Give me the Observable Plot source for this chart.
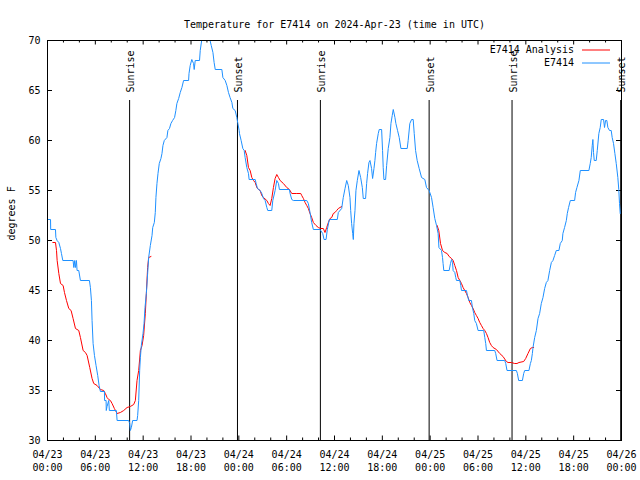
<!DOCTYPE html>
<html>
<head>
<meta charset="utf-8">
<script src="https://cdn.jsdelivr.net/npm/d3@7"></script>
<script src="https://cdn.jsdelivr.net/npm/@observablehq/plot@0.6"></script>
<style>
  html, body { margin: 0; padding: 0; background: white; }
  #chart svg { display: block; }
</style>
</head>
<body>
<div id="chart"></div>
<script>
// ---- data (hours since 2024-04-23 00:00 UTC, degrees F) ----
const titleText = "Temperature for E7414 on 2024-Apr-23 (time in UTC)";
const yLabel = "degrees F";
const seriesNames = ["E7414 Analysis", "E7414"];
const seriesColors = ["#ff0000", "#1e90ff"];

const blueH = [0,0.38,0.4,1.0,1.05,1.2,1.42,1.63,1.75,1.92,3.21,3.3,3.42,3.5,3.63,3.71,3.92,4.13,5.26,5.38,5.51,5.59,5.72,5.89,6.09,6.3,6.47,6.64,7.14,7.16,7.35,7.37,7.47,7.68,7.76,8.64,8.73,10.18,10.31,10.39,10.52,10.68,11.23,11.31,11.44,11.56,11.65,11.77,11.98,12.11,12.23,12.4,12.56,12.69,12.9,13.11,13.2,13.4,13.52,13.6,13.73,13.86,14.02,14.23,14.36,14.48,14.65,14.98,15.1,15.3,15.48,15.69,15.94,16.1,16.23,16.45,16.65,16.86,17.07,17.7,17.75,17.9,18.1,18.32,18.4,18.53,19.07,19.16,19.37,19.8,20.33,20.54,20.75,20.9,21.04,21.87,22,22.29,22.5,22.7,22.9,23.13,23.25,23.54,23.75,23.88,24.04,24.08,24.29,24.5,24.67,24.79,25.0,25.21,25.29,26.05,26.17,26.34,26.67,26.88,27.09,27.3,27.51,27.63,28.13,28.26,28.55,28.76,28.97,29.09,30.34,30.43,30.64,30.84,32.52,32.72,32.93,33.14,33.35,34.18,34.52,34.69,34.94,35.1,35.35,36.35,36.48,36.9,37.1,37.32,37.53,37.73,37.94,38.03,38.15,38.28,38.36,38.44,38.57,38.69,38.86,39.07,39.28,39.49,39.61,39.9,40.03,40.15,40.32,40.45,40.65,40.78,40.95,41.07,41.16,41.28,41.49,41.61,41.91,42.03,42.11,42.2,42.41,42.54,42.74,42.95,43.08,43.24,43.37,43.58,43.7,43.91,44.12,44.33,45.12,45.24,45.45,45.67,45.87,46,46.17,46.37,46.62,46.92,47.33,47.54,47.87,48.17,48.37,48.58,48.8,49.0,49.1,49.42,49.55,49.62,49.71,50.38,50.55,50.68,50.8,50.88,51.09,51.21,51.3,51.72,51.84,51.93,52.55,52.68,52.84,53.18,53.3,53.47,53.59,53.8,54.01,54.72,54.85,54.97,55.06,56.1,56.22,56.39,57.35,57.48,57.64,58.81,58.94,59.1,59.57,59.73,59.86,60.39,60.57,60.69,60.82,60.9,61.11,61.32,61.53,61.73,61.94,62.15,62.36,62.57,62.77,62.99,63.2,63.4,63.61,63.82,64.15,64.32,64.57,64.65,64.86,65.08,65.2,65.36,65.58,66.12,66.24,66.41,66.66,66.83,67.91,68.08,68.2,68.33,68.41,68.49,68.58,68.83,68.96,69.16,69.33,69.46,69.75,69.87,70,70.16,70.29,70.5,70.71,70.83,71,71.17,71.34,71.54,71.66,71.75,71.84];
const blueT = [52.1,52.1,51.1,51.1,50.3,50.0,49.8,49.2,48.7,48,48,47.3,48,47.3,48,47,47,46,46,45.3,44,42,39.7,38.5,37.5,36.5,35.5,34.9,34.9,34,34,33,33.4,34,33,33,32,32,31.7,31,31.3,32,32,32.5,34,37,38.3,39.5,40.7,41.7,43.3,44.7,46.7,48.3,49.5,50.5,51.3,51.8,52.8,54.3,55.7,56.7,57.7,58.2,58.7,59.5,60,60.3,61,61.2,61.7,62,62.3,63,63.7,64.2,64.8,65.3,66,66,66.7,67.5,68.1,67.7,67.1,68,68,69,70.2,71,70.2,69.5,68.8,67.8,67.1,67.1,66.3,66,65.5,64.8,64.3,63.8,63.2,63,62.3,61.7,61,60.7,60,59.2,59,58.3,57.3,56.7,56.1,56.1,55.7,55.2,55,54.7,54.2,54,53.3,53,53,54,55,56,55.7,55.1,55.1,54.7,54.1,54,54,53.7,52.8,51.8,51.1,51.1,50.7,50.1,50.1,51.1,52.1,52.1,52.8,53.2,54.3,55.2,56,55.5,54.3,53,51.7,50.7,50.1,51.7,53,55,56,57,56.3,55.3,54.2,54.2,55.7,56.7,57.8,58,57.2,56.2,57.2,58,58.8,59.7,60.7,61.1,61.1,59,57.3,56.1,56.1,57.5,59.2,60.3,61.7,62.5,63.1,62.3,61.7,61,60.3,59.2,59.2,60,61.7,62.1,62.1,60.7,59,58,57.2,56.3,56.1,55.3,55,54.3,53.3,52.2,51.5,50.7,49.3,49,48.3,47.7,47,47,47.7,48.1,47.8,47,46.8,46.3,46,46,45.5,45,45,44.5,44,44,43.3,42.7,42,41.7,41,41,40.3,39.7,39,39,38.7,38,38,37.7,37,37,36.7,36,36,36.7,37,37,37.7,38,38.7,39.3,40.3,41,42.2,42.7,43.7,44.3,45.2,45.8,46,47,47.8,48,48.5,49,49,49.7,50,50.7,51.3,52,52.7,53.3,54,54,54.8,55.3,56,57,57,57.7,58.3,59.5,60.1,58.8,58,58,59,60.7,61.3,62.1,62.1,61.3,62,62,61.3,61,61,60.3,59.7,58.7,57.7,56.3,55.1,53.7,52.7];

const redH = [0.67,1.0,1.13,1.21,1.42,1.63,1.96,2.13,2.38,2.67,2.96,3.21,3.51,3.92,4.13,4.47,4.76,4.97,5.3,5.59,5.8,6.22,6.64,7.05,7.26,7.47,7.68,7.89,8.1,8.39,8.73,9.14,9.56,9.98,10.39,10.81,11.02,11.23,11.44,11.65,11.86,12.06,12.27,12.4,12.56,12.69,12.98,
  13.5,
  24.79,25.0,25.21,25.42,25.63,25.84,26.05,26.26,26.46,26.67,26.88,27.09,27.51,27.71,27.92,28.13,28.34,28.55,28.76,28.97,29.18,29.59,30.01,30.34,30.64,31.27,31.77,31.89,32.1,32.31,32.52,32.72,32.93,33.14,33.35,33.68,33.97,34.27,34.6,34.81,35.02,35.23,35.44,35.65,35.85,36.06,36.27,36.48,36.69,36.9,
  40,
  48.87,49.08,49.3,49.55,49.84,50.13,50.38,50.68,50.88,51.09,51.3,51.51,51.72,51.93,52.13,52.34,52.55,52.76,52.97,53.18,53.39,53.59,53.8,54.01,54.22,54.43,54.64,54.85,55.06,55.26,55.47,55.68,55.89,56.31,56.73,57.14,57.56,57.77,58.18,58.6,58.89,59.14,59.73,59.98,60.27,60.57,60.82,60.98];
const redT = [49.8,49.8,49,48,46.7,45.7,45.5,44.8,44,43.2,43,42.2,41.2,41,40.3,39,38.8,38.5,37.3,36.2,35.7,35.5,35.1,35,34.7,34.3,34.1,34,33.7,33.2,32.7,32.8,33,33.3,33.4,33.6,34,36,37,39,39.5,40.5,42.7,44.7,47.3,48.3,48.4,
  null,
  59,58.5,57.3,57,56.3,56,55.8,55.3,55.1,55,54.5,54.3,54,53.7,53.5,54.2,55.3,56.2,56.6,56.3,56,55.7,55.3,55.1,54.7,54.7,54.7,54.5,54.2,53.8,53.5,53.2,52.7,52.3,51.8,51.5,51.3,51.2,51.2,50.8,51.3,51.8,52.2,52.3,52.7,52.8,53,53.2,53.3,53.4,
  null,
  51.5,51,49.7,49,48.8,48.7,48.4,48.2,48,47.5,47,46.3,46,45.7,45.3,45,44.7,44.3,43.8,43.5,43.2,42.8,42.5,42.2,41.8,41.5,41.2,41,40.7,40.3,39.8,39.5,39.3,39.1,38.7,38.4,37.9,37.8,37.8,37.7,37.7,37.8,37.9,38.2,38.7,39.2,39.3,39.3];

const eventH = [10.3, 23.83, 34.23, 47.87, 58.27, 71.9];
const eventLabels = ["Sunrise", "Sunset", "Sunrise", "Sunset", "Sunrise", "Sunset"];

const xTickH = [0,6,12,18,24,30,36,42,48,54,60,66,72];
const xMinorH = [2,4,8,10,14,16,20,22,26,28,32,34,38,40,44,46,50,52,56,58,62,64,68,70];
const yTicks = [30,35,40,45,50,55,60,65,70];
const xDomainH = [0, 72];
const yDomain = [30, 70];

// ---- build ----
const startMs = Date.UTC(2024, 3, 23);
const toDate = h => new Date(startMs + h * 3600000);
const blue = blueH.map((h, i) => ({t: toDate(h), v: blueT[i]}));
const red = redH.map((h, i) => ({t: toDate(h), v: redT[i]}));
const events = eventH.map((h, i) => ({t: toDate(h), label: eventLabels[i]}));
const xTicks = xTickH.map(toDate);
const xMinor = xMinorH.map(toDate);
const fmtD = d3.utcFormat("%m/%d"), fmtT = d3.utcFormat("%H:%M");

const W = 640, H = 480, mL = 47, mR = 19, mT = 40, mB = 40;
const plotW = W - mL - mR, plotH = H - mT - mB;

function legend(index, scales, values, dims) {
  const g = d3.create("svg:g");
  const right = dims.width - dims.marginRight;
  seriesNames.forEach((name, i) => {
    const y = dims.marginTop + 10 + i * 13;
    g.append("text").attr("x", right - 47).attr("y", y).attr("dy", "0.32em")
      .attr("text-anchor", "end").attr("fill", "black").text(name);
    g.append("line").attr("x1", right - 39).attr("x2", right - 11)
      .attr("y1", y).attr("y2", y).attr("stroke", seriesColors[i]).attr("stroke-width", 1);
  });
  return g.node();
}

const chart = Plot.plot({
  width: W, height: H,
  marginLeft: mL, marginRight: mR, marginTop: mT, marginBottom: mB,
  x: {type: "utc", domain: xDomainH.map(toDate), axis: null},
  y: {domain: yDomain, axis: null},
  style: {fontFamily: "'DejaVu Sans Mono', monospace", fontSize: "10px", background: "white", color: "black"},
  marks: [
    // inward ticks
    Plot.tickX(xTicks, {x: d => d, insetTop: plotH - 4.5, stroke: "black"}),
    Plot.tickX(xTicks, {x: d => d, insetBottom: plotH - 4.5, stroke: "black"}),
    Plot.tickX(xMinor, {x: d => d, insetTop: plotH - 2.5, stroke: "black"}),
    Plot.tickX(xMinor, {x: d => d, insetBottom: plotH - 2.5, stroke: "black"}),
    Plot.tickY(yTicks, {y: d => d, insetRight: plotW - 5, stroke: "black"}),
    Plot.tickY(yTicks, {y: d => d, insetLeft: plotW - 5, stroke: "black"}),
    // tick labels
    Plot.text(xTicks, {x: d => d, text: d => fmtD(d) + "\n" + fmtT(d), frameAnchor: "bottom", lineAnchor: "top", dy: 8, lineHeight: 1.3}),
    Plot.text(yTicks, {y: d => d, text: d => String(d), frameAnchor: "left", textAnchor: "end", dx: -7}),
    // sunrise / sunset
    Plot.ruleX(events, {x: "t", insetTop: 60, stroke: "black", strokeWidth: 1}),
    Plot.text(events, {x: "t", text: "label", frameAnchor: "top", rotate: -90, textAnchor: "start", dy: 52, dx: -2.5}),
    // series
    Plot.line(red, {x: "t", y: "v", stroke: seriesColors[0], strokeWidth: 1, clip: true}),
    Plot.line(blue, {x: "t", y: "v", stroke: seriesColors[1], strokeWidth: 1, clip: true}),
    Plot.frame({stroke: "black"}),
    // titles
    Plot.text([titleText], {text: d => d, frameAnchor: "top", dy: -19.5}),
    Plot.text([yLabel], {text: d => d, frameAnchor: "left", dx: -36, rotate: -90}),
    legend
  ]
});
document.getElementById("chart").appendChild(chart);
</script>
</body>
</html>
